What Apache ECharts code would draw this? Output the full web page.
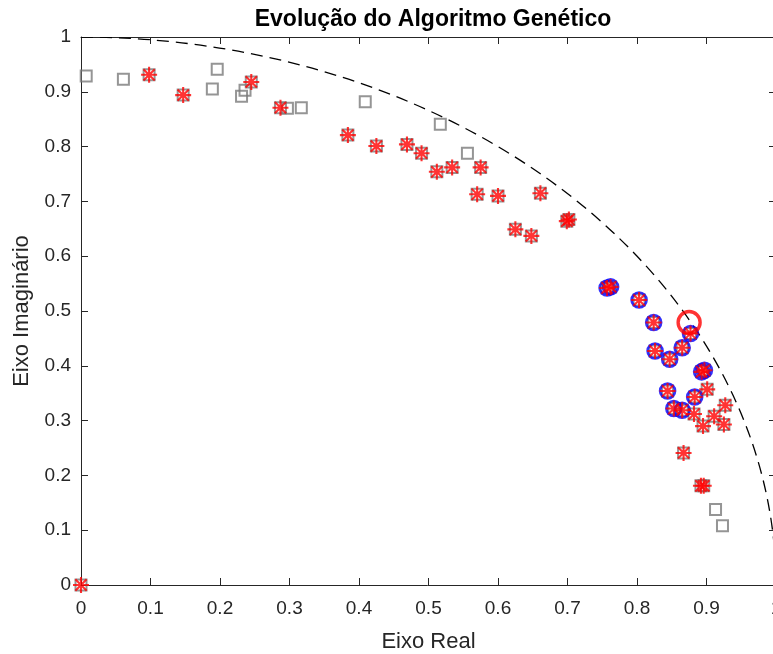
<!DOCTYPE html>
<html>
<head>
<meta charset="utf-8">
<script src="https://cdn.jsdelivr.net/npm/echarts@6/dist/echarts.min.js"></script>
<style>
html,body{margin:0;padding:0;background:#fff;}
#chart{width:773px;height:654px;}
</style>
</head>
<body>
<div id="chart"></div>
<script>
// ---- data (x = real part, y = imaginary part) ----
var titleText = 'Evolução do Algoritmo Genético';
var xName = 'Eixo Real';
var yName = 'Eixo Imaginário';
var xTicks = [0, 0.1, 0.2, 0.3, 0.4, 0.5, 0.6, 0.7, 0.8, 0.9, 1];
var yTicks = [0, 0.1, 0.2, 0.3, 0.4, 0.5, 0.6, 0.7, 0.8, 0.9, 1];

// gray squares that appear alone (earlier generations)
var squaresOnly = [
  [0.0075, 0.929], [0.061, 0.923], [0.196, 0.941], [0.189, 0.905],
  [0.236, 0.903], [0.231, 0.892], [0.297, 0.870], [0.317, 0.871],
  [0.409, 0.882], [0.517, 0.841], [0.556, 0.788], [0.913, 0.138],
  [0.923, 0.108]
];

// red asterisks (population)
var stars = [
  [0, 0], [0.098, 0.931], [0.147, 0.894], [0.245, 0.918], [0.287, 0.871],
  [0.384, 0.821], [0.425, 0.801], [0.469, 0.804], [0.490, 0.788],
  [0.512, 0.754], [0.534, 0.762], [0.575, 0.762], [0.570, 0.713],
  [0.600, 0.710], [0.661, 0.715], [0.625, 0.649], [0.648, 0.637],
  [0.699, 0.664], [0.702, 0.667], [0.901, 0.357], [0.927, 0.328],
  [0.911, 0.308], [0.895, 0.290], [0.925, 0.293], [0.882, 0.312],
  [0.867, 0.241], [0.892, 0.181], [0.896, 0.181]
];

// blue circles (selected individuals), also marked with asterisks
var selected = [
  [0.757, 0.542], [0.762, 0.544], [0.803, 0.520], [0.824, 0.479],
  [0.877, 0.459], [0.826, 0.427], [0.865, 0.433], [0.847, 0.412],
  [0.893, 0.389], [0.897, 0.392], [0.844, 0.354], [0.883, 0.343],
  [0.853, 0.322], [0.865, 0.319]
];

// target point (big red circle)
var target = [[0.875, 0.479]];

// reference unit circle: [centerX, centerY, radius]
var unitCircle = [[0, 0, 1]];

// ---- chart ----
var allSquares = squaresOnly.concat(stars, selected);
var allStars = stars.concat(selected);
var axisColor = '#262626';
var font = '"Liberation Sans", Arial, Helvetica, sans-serif';
var asterisk = 'path://M10,0 L10,20 M0,10 L20,10 M2.93,2.93 L17.07,17.07 M2.93,17.07 L17.07,2.93';

function axisCommon(pos, showLabel, ticks) {
  return {
    type: 'value', position: pos, min: ticks[0], max: ticks[ticks.length - 1],
    interval: ticks[1] - ticks[0],
    axisLine: {show: true, onZero: false, lineStyle: {color: axisColor, width: 1}},
    axisTick: {show: true, inside: true, length: 7, lineStyle: {color: axisColor, width: 1}},
    axisLabel: {show: showLabel, color: axisColor, fontSize: 19, fontFamily: font, margin: 14,
      formatter: function (v) { return String(+v.toFixed(1)); }},
    splitLine: {show: false}
  };
}

var xBottom = axisCommon('bottom', true, xTicks);
xBottom.name = xName; xBottom.nameLocation = 'middle'; xBottom.nameGap = 46;
xBottom.nameTextStyle = {fontSize: 22, color: axisColor, fontFamily: font};
var xTop = axisCommon('top', false, xTicks);
var yLeft = axisCommon('left', true, yTicks);
yLeft.name = yName; yLeft.nameLocation = 'middle'; yLeft.nameGap = 48;
yLeft.nameTextStyle = {fontSize: 22, color: axisColor, fontFamily: font};
yLeft.axisLabel.margin = 10;
var yRight = axisCommon('right', false, yTicks);

var chart = echarts.init(document.getElementById('chart'), null, {renderer: 'canvas'});
chart.setOption({
  backgroundColor: '#fff',
  animation: false,
  title: {
    text: titleText, left: 428, top: 3, textAlign: 'center',
    textStyle: {fontSize: 23, fontWeight: 'bold', color: '#000', fontFamily: font}
  },
  grid: {left: 81, width: 695, top: 37, height: 548, containLabel: false, outerBoundsMode: 'none'},
  xAxis: [xBottom, xTop],
  yAxis: [yLeft, yRight],
  series: [
    {
      type: 'custom', xAxisIndex: 0, yAxisIndex: 0, data: unitCircle, z: 1, silent: true,
      renderItem: function (params, api) {
        var c = api.coord([api.value(0), api.value(1)]);
        var r = api.value(2);
        var rx = api.size([r, 0])[0];
        var ry = api.size([0, r])[1];
        var cs = params.coordSys;
        var d = 'M' + c[0] + ' ' + (c[1] - ry) + ' A' + rx + ' ' + ry + ' 0 0 1 ' + (c[0] + rx) + ' ' + c[1];
        return {
          type: 'path', shape: {pathData: d},
          style: {fill: 'none', stroke: '#000', lineWidth: 1.3, lineDash: [12, 7]},
          clipPath: {type: 'rect', shape: {x: cs.x, y: cs.y, width: cs.width, height: cs.height}}
        };
      }
    },
    {
      type: 'scatter', data: allSquares, symbol: 'rect', symbolSize: 11, z: 2,
      itemStyle: {color: 'rgba(0,0,0,0)', borderColor: '#7a7a7a', borderWidth: 2}
    },
    {
      type: 'scatter', data: selected, symbol: 'circle', symbolSize: 15, z: 3,
      itemStyle: {color: 'rgba(0,0,0,0)', borderColor: '#0000ff', borderWidth: 2.6}
    },
    {
      type: 'scatter', data: allStars, symbol: asterisk, symbolSize: 16, z: 4,
      itemStyle: {color: 'rgba(0,0,0,0)', borderColor: '#ff0000', borderWidth: 2.1}
    },
    {
      type: 'scatter', data: target, symbol: 'circle', symbolSize: 22, z: 5,
      itemStyle: {color: 'rgba(0,0,0,0)', borderColor: '#ff0000', borderWidth: 3.4}
    }
  ]
});
</script>
</body>
</html>
